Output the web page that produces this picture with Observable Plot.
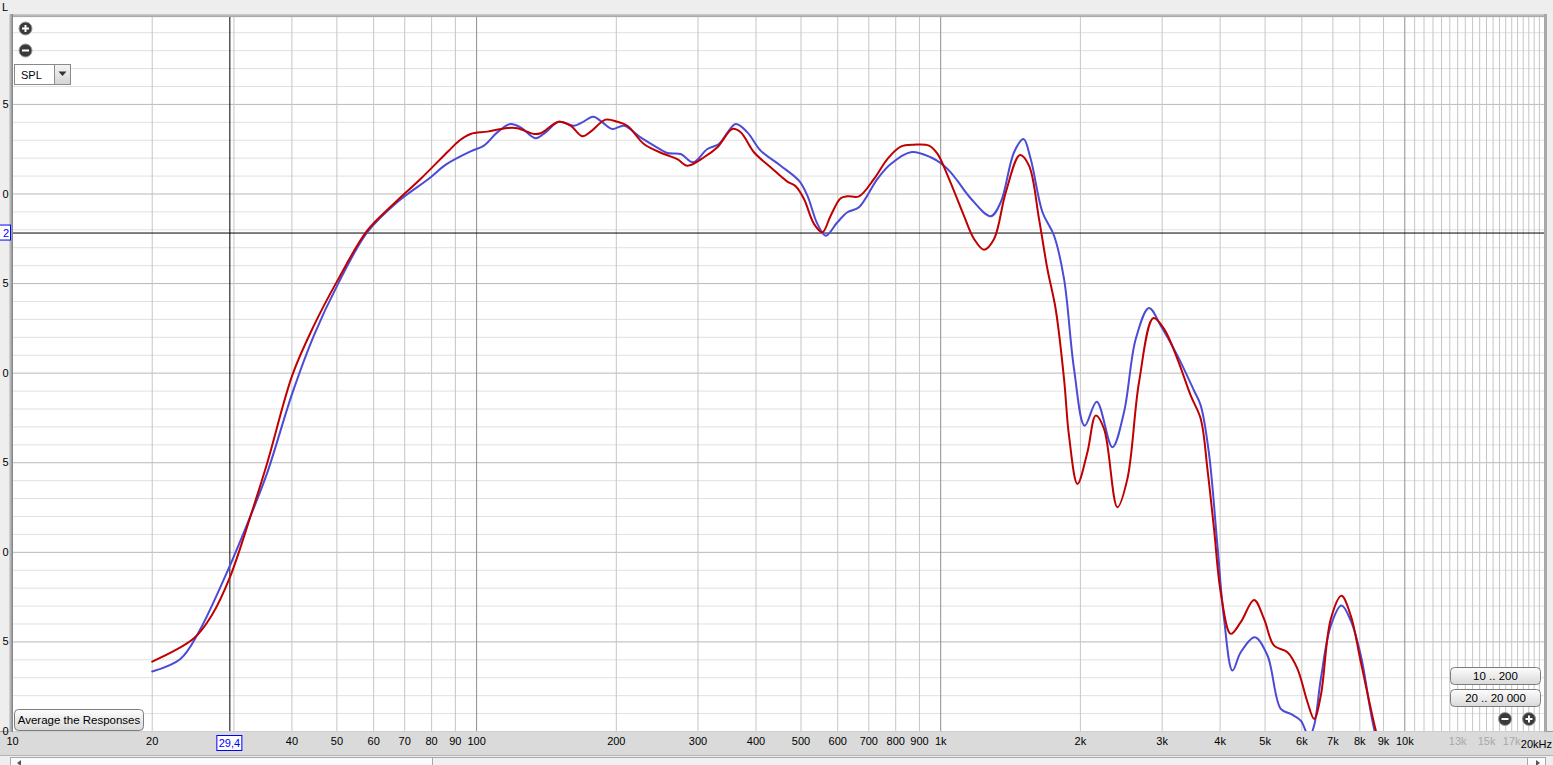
<!DOCTYPE html>
<html><head><meta charset="utf-8">
<script src="https://cdn.jsdelivr.net/npm/d3@7"></script>
<script src="https://cdn.jsdelivr.net/npm/@observablehq/plot@0.6"></script>
<style>
html,body{margin:0;padding:0;background:#eeeeee;overflow:hidden;}
#chart svg{display:block}
</style></head><body><div id="chart"></div>
<script>
// ---- data (Hz, dB SPL) ----
const redFreq = [20,24.6,26.9,29.4,32.6,35.4,40.1,44.6,50.1,58.1,66.3,75.8,87,92,97.1,105.5,116.5,122.4,132.9,137.4,150.4,159.4,168.9,176.1,189.7,201.1,211.3,229.4,253.3,270.7,284.6,309,330.3,355.7,370.7,395.9,430.1,467.3,487,507.5,533.3,555.9,579.3,608.8,629.4,666.7,718.3,767.6,820.1,876.2,943.6,983.7,1040,1122,1180,1240,1303,1381,1482,1550,1629,1698,1769,1844,1890,1971,2071,2158,2249,2403,2525,2675,2873,3029,3237,3458,3634,3756,3881,4012,4217,4431,4734,4975,5228,5587,5872,6171,6377,6592,6927,7303,7649,8040,8660,9200];
const redDb = [53.9,55.2,56.5,58.6,62.05,65.0,69.9,72.65,75.15,77.95,79.45,80.85,82.4,83.0,83.35,83.48,83.68,83.67,83.35,83.39,84.03,83.81,83.22,83.48,84.15,84.03,83.81,82.79,82.23,81.95,81.58,82.05,82.61,83.63,83.44,82.33,81.49,80.69,80.43,79.72,78.33,77.86,78.79,79.76,79.87,79.87,80.84,81.95,82.64,82.75,82.70,82.25,80.9,78.79,77.49,76.89,77.49,80.09,82.18,81.58,78.6,75.81,73.58,69.68,66.51,63.82,65.59,67.63,66.89,62.52,64.10,69.49,73.08,72.47,70.79,68.74,67.44,64.65,61.31,57.77,55.45,56.10,57.34,56.28,54.79,54.42,53.49,51.63,50.70,52.0,56.28,57.58,56.47,53.87,50.05,47.5];
const blueFreq = [20,23.0,25.2,29.4,32.6,35.4,40.1,44.6,50.1,58.1,67.5,78.9,86,97.1,103.7,110.8,118.4,124.4,134.0,140.8,150.4,162.1,168.9,178.4,186.6,196.1,207.8,225.6,241.1,257.6,275.3,293.1,314.3,332.9,361.6,383.2,409.3,452.0,495.0,516.1,542.4,565.2,598.9,629.4,666.7,730.5,780.3,861.8,951.4,1016.5,1051,1086,1160,1282,1347,1439,1508,1563,1657,1755,1844,1938,2043,2169,2344,2483,2632,2811,2980,3237,3515,3634,3786,3947,4079,4253,4431,4750,5060,5405,5679,5969,6221,6377,6592,6927,7303,7649,8040,8587,9200];
const blueDb = [53.35,54.05,55.55,59.25,62.05,64.45,68.9,72.1,74.9,77.85,79.55,80.85,81.65,82.38,82.70,83.44,83.91,83.72,83.11,83.44,84.03,83.81,84.0,84.31,84.0,83.63,83.81,83.16,82.70,82.29,82.23,81.77,82.51,82.79,83.91,83.44,82.42,81.58,80.74,79.91,78.33,77.67,78.42,78.98,79.26,80.84,81.67,82.33,82.05,81.58,81.21,80.74,79.76,78.76,79.54,82.33,83.07,81.95,78.98,77.67,75.26,70.23,67.07,68.41,65.87,67.82,71.91,73.64,72.65,70.98,69.02,68.19,65.5,60.37,56.28,53.40,54.42,55.26,54.24,51.26,50.98,50.61,49.7,50.33,52.93,55.91,57.03,56.19,54.24,50.15,47.5];

// cursor
const cursorFreq = 29.4;
const cursorFreqLabel = "29,4";
const cursorDb = 77.82;
const cursorDbLabel = "2";

// ticks
const xTickValues = [10,20,40,50,60,70,80,90,100,200,300,400,500,600,700,800,900,1000,2000,3000,4000,5000,6000,7000,8000,9000,10000];
const xTickLabels = ["10","20","40","50","60","70","80","90","100","200","300","400","500","600","700","800","900","1k","2k","3k","4k","5k","6k","7k","8k","9k","10k"];
const xFaintTickValues = [13000,15000,17000];
const xFaintTickLabels = ["13k","15k","17k"];
const xEndLabel = "20kHz";
const yTickValues = [85,80,75,70,65,60,55,50];
const yTickLabels = ["5","0","5","0","5","0","5","0"];

// grid
const xGridMinor = [20,30,40,50,60,70,80,90,200,300,400,500,600,700,800,900,2000,3000,4000,5000,6000,7000,8000,9000,
  10500,11000,11500,12000,12500,13000,13500,14000,14500,15000,15500,16000,16500,17000,17500,18000,18500,19000,19500];
const xGridDecade = [100,1000,10000];
const yGridMinor = d3.range(51, 90).filter(v => v % 5 !== 0);
const yGridMajor = [55,60,65,70,75,80,85];

const red = redFreq.map((f,i) => ({f, db: redDb[i]}));
const blue = blueFreq.map((f,i) => ({f, db: blueDb[i]}));
const xTicks = xTickValues.map((v,i) => ({v, t: xTickLabels[i]}));
const xFaint = xFaintTickValues.map((v,i) => ({v, t: xFaintTickLabels[i]}));
const yTicks = yTickValues.map((v,i) => ({v, t: yTickLabels[i]}));

const FONT = "'Liberation Sans', Arial, sans-serif";
const W = 1553, H = 765;

const plot = Plot.plot({
  width: W, height: H,
  marginLeft: 12, marginRight: 9, marginTop: 17, marginBottom: 34,
  x: {type: "log", domain: [10, 20000], axis: null},
  y: {domain: [50, 89.85], axis: null},
  style: {background: "transparent", fontFamily: FONT, fontSize: "11px", color: "#000"},
  marks: [
    Plot.frame({fill: "white"}),
    Plot.ruleY(yGridMinor, {stroke: "#e0e0e0", strokeWidth: 1}),
    Plot.ruleY(yGridMajor, {stroke: "#b9b9b9", strokeWidth: 1}),
    Plot.ruleX(xGridMinor, {stroke: "#c6c6c6", strokeWidth: 1}),
    Plot.ruleX(xGridDecade, {stroke: "#8e8e8e", strokeWidth: 1}),
    Plot.ruleX([cursorFreq], {stroke: "#000", strokeWidth: 1}),
    Plot.ruleY([cursorDb], {stroke: "#000", strokeWidth: 1}),
    Plot.line(blue, {x: "f", y: "db", stroke: "#4b4bd6", strokeWidth: 2, curve: "catmull-rom", clip: true}),
    Plot.line(red, {x: "f", y: "db", stroke: "#c00000", strokeWidth: 2, curve: "catmull-rom", clip: true}),
    Plot.text(xTicks, {x: "v", text: "t", frameAnchor: "bottom", dy: 13, fill: "#000"}),
    Plot.text(xFaint, {x: "v", text: "t", frameAnchor: "bottom", dy: 13, fill: "#a8a8a8"}),
    Plot.text(yTicks, {y: "v", text: "t", frameAnchor: "left", dx: -10, textAnchor: "start", fill: "#000"})
  ]
});
document.getElementById("chart").appendChild(plot);

const sx = plot.scale("x"), sy = plot.scale("y");
const svg = d3.select(plot);
const defs = svg.append("defs");
function vgrad(id, a, b) {
  const g = defs.append("linearGradient").attr("id", id).attr("x1",0).attr("y1",0).attr("x2",0).attr("y2",1);
  g.append("stop").attr("offset","0%").attr("stop-color",a);
  g.append("stop").attr("offset","100%").attr("stop-color",b);
}
function hgrad(id, a, b) {
  const g = defs.append("linearGradient").attr("id", id).attr("x1",0).attr("y1",0).attr("x2",1).attr("y2",0);
  g.append("stop").attr("offset","0%").attr("stop-color",a);
  g.append("stop").attr("offset","100%").attr("stop-color",b);
}
vgrad("btn", "#fdfdfd", "#d9d9d9");
vgrad("arr", "#f4f4f4", "#d4d4d4");
hgrad("bevel", "#dadada", "#7c7c7c");
vgrad("topb", "#cfcfcf", "#a2a2a2");

// background chrome (below plot marks)
const bg = svg.insert("g", ":first-child");
bg.append("rect").attr("x",0).attr("y",0).attr("width",W).attr("height",H).attr("fill","#eeeeee");
bg.append("rect").attr("x",0).attr("y",731).attr("width",W).attr("height",25).attr("fill","#dadada");
bg.append("line").attr("x1",0).attr("x2",W).attr("y1",731.5).attr("y2",731.5).attr("stroke","#9c9c9c");
bg.append("line").attr("x1",0).attr("x2",W).attr("y1",755.5).attr("y2",755.5).attr("stroke","#b4b4b4");
// scrollbar
bg.append("rect").attr("x",10.5).attr("y",757.5).attr("width",1535).attr("height",9).attr("fill","#fbfbfb").attr("stroke","#a8a8a8");
bg.append("rect").attr("x",432.5).attr("y",757.5).attr("width",1095).attr("height",9).attr("fill","#f0f0f0").attr("stroke","#a8a8a8");
bg.append("path").attr("d","M21,760 L17,763 L21,766 Z").attr("fill","#555");
bg.append("path").attr("d","M1536,760 L1540,763 L1536,766 Z").attr("fill","#555");

// frame borders
const fg = svg.append("g").attr("text-anchor","start");
fg.append("rect").attr("x",9).attr("y",14).attr("width",1538).attr("height",3).attr("fill","url(#topb)");
fg.append("rect").attr("x",9).attr("y",14).attr("width",4).attr("height",718).attr("fill","url(#bevel)");
fg.append("rect").attr("x",1544).attr("y",14).attr("width",3).attr("height",718).attr("fill","#a8a8a8");

// end label
fg.append("text").attr("x",1552).attr("y",748).attr("text-anchor","end")
  .attr("font-family",FONT).attr("font-size",11).text(xEndLabel);
// top-left "L"
fg.append("text").attr("x",2).attr("y",11).attr("text-anchor","start").attr("font-family",FONT).attr("font-size",11).text("L");

// icons
function zoomIcon(cx, cy, plus) {
  const g = fg.append("g");
  g.append("circle").attr("cx",cx).attr("cy",cy).attr("r",6.5).attr("fill","#3a3a3a").attr("stroke","#9a9a9a").attr("stroke-width",1);
  g.append("rect").attr("x",cx-3.5).attr("y",cy-1).attr("width",7).attr("height",2).attr("fill","#fff");
  if (plus) g.append("rect").attr("x",cx-1).attr("y",cy-3.5).attr("width",2).attr("height",7).attr("fill","#fff");
}
zoomIcon(25.5, 28.5, true);
zoomIcon(25.5, 50.5, false);
zoomIcon(1505, 719, false);
zoomIcon(1529, 719, true);

// SPL dropdown
fg.append("rect").attr("x",14.5).attr("y",64.5).attr("width",56).attr("height",20).attr("fill","#fff").attr("stroke","#8a8a8a");
fg.append("rect").attr("x",54.5).attr("y",64.5).attr("width",16).attr("height",20).attr("fill","url(#arr)").attr("stroke","#8a8a8a");
fg.append("path").attr("d","M58.5,71.5 L66.5,71.5 L62.5,76 Z").attr("fill","#333");
fg.append("text").attr("x",21).attr("y",79).attr("text-anchor","start").attr("font-family",FONT).attr("font-size",11).text("SPL");

// buttons
function button(x, y, w, h, label) {
  fg.append("rect").attr("x",x+0.5).attr("y",y+0.5).attr("width",w).attr("height",h).attr("rx",4)
    .attr("fill","url(#btn)").attr("stroke","#7d7d7d");
  fg.append("text").attr("x",x+w/2+0.5).attr("y",y+h/2+4.5).attr("text-anchor","middle")
    .attr("font-family",FONT).attr("font-size",11.5).text(label);
}
button(14, 709, 129, 21, "Average the Responses");
button(1450, 667, 90, 17, "10 .. 200");
button(1450, 689, 90, 17, "20 .. 20 000");

// cursor labels
const cx = sx.apply(cursorFreq);
fg.append("rect").attr("x",cx-12.5).attr("y",735.5).attr("width",25).attr("height",15).attr("fill","#fff").attr("stroke","#0000ff");
fg.append("text").attr("x",cx).attr("y",747).attr("text-anchor","middle").attr("fill","#0000ff")
  .attr("font-family",FONT).attr("font-size",11).text(cursorFreqLabel);
const cyy = sy.apply(cursorDb);
fg.append("rect").attr("x",-1).attr("y",cyy-7.5).attr("width",11.5).attr("height",15).attr("fill","#fff").attr("stroke","#0000ff");
fg.append("text").attr("x",9).attr("y",cyy+4).attr("text-anchor","end").attr("fill","#0000ff")
  .attr("font-family",FONT).attr("font-size",11).text(cursorDbLabel);
</script>
</body></html>
